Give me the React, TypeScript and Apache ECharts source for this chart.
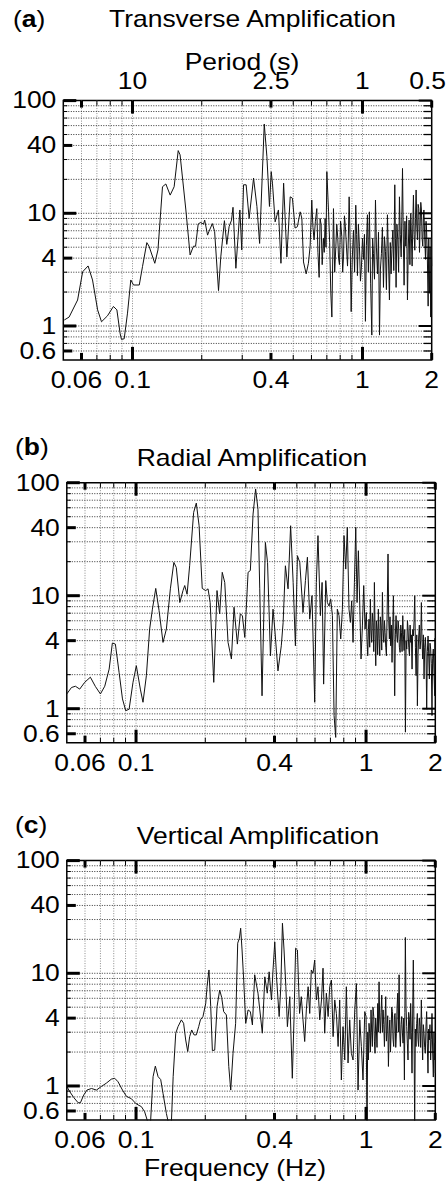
import { useEffect, useRef } from "react";
import * as echarts from "echarts";

const X_MIN = 0.05;
const X_MAX = 2;
const Y_MIN = 0.5;
const Y_MAX = 100;

const X_GRID_VALUES = [0.06, 0.07, 0.08, 0.09, 0.1, 0.2, 0.3, 0.4, 0.5, 0.6, 0.7, 0.8, 0.9, 1];
const X_TICK_VALUES = [...X_GRID_VALUES, 2];
const X_LABEL_VALUES = [0.06, 0.1, 0.4, 1, 2];
const Y_GRID_VALUES = [0.6, 0.7, 0.8, 0.9, 1, 2, 3, 4, 5, 6, 7, 8, 9, 10, 20, 30, 40, 50, 60, 70, 80, 90];
const Y_TICK_VALUES = [...Y_GRID_VALUES, 100];
const Y_LABEL_VALUES = [0.6, 1, 4, 10, 40, 100];
const PERIOD_LABELS = [10, 2.5, 1, 0.5];

const PANEL_TAGS = ["a", "b", "c"];
const PANEL_TITLES = ["Transverse Amplification", "Radial Amplification", "Vertical Amplification"];

const transverse: [number, number][] = [
  [0.0505, 1.13], [0.053, 1.2], [0.0577, 1.7], [0.0607, 3.03], [0.0641, 3.41], [0.067, 2.56], [0.0705, 1.39],
  [0.0733, 1.09], [0.0778, 1.23], [0.0826, 1.49], [0.0855, 1.39], [0.0883, 0.86], [0.0895, 0.76], [0.092, 0.77],
  [0.0951, 1.3], [0.0983, 2.56], [0.101, 2.31], [0.107, 2.31], [0.1105, 3.36], [0.1154, 5.49], [0.118, 5.1],
  [0.125, 3.6], [0.129, 4.73], [0.135, 17.2], [0.1396, 18.2], [0.1458, 14.5], [0.1517, 17.2], [0.158, 36],
  [0.161, 33], [0.1706, 10.7], [0.178, 4.27], [0.184, 5.1], [0.188, 5.1], [0.193, 8.04], [0.198, 8.3],
  [0.2035, 8], [0.206, 8.7], [0.212, 6.4], [0.215, 6.9], [0.2225, 8.1], [0.2275, 6.9], [0.2366, 2.06],
  [0.242, 4.1], [0.251, 8.6], [0.257, 5.3], [0.263, 7.6], [0.2695, 8.7], [0.2735, 11.3], [0.2815, 3.25],
  [0.293, 10.7], [0.2985, 4.73], [0.304, 17.9], [0.312, 17.9], [0.3215, 9], [0.336, 20.5], [0.3475, 11.5],
  [0.357, 5.4], [0.374, 62], [0.384, 31.8], [0.394, 11.5], [0.401, 23.4], [0.406, 18.5], [0.417, 8.4],
  [0.431, 10.7], [0.442, 3.6], [0.454, 18.5], [0.469, 4.1], [0.485, 14], [0.496, 13.6], [0.509, 7.4],
  [0.521, 7.6], [0.536, 10.3], [0.545, 9], [0.554, 3.7], [0.569, 2.9], [0.582, 3.6], [0.592, 5.1],
  [0.602, 13.1], [0.609, 7.5], [0.616, 5.8], [0.624, 8.5], [0.633, 11], [0.64, 4.5], [0.648, 2.7],
  [0.654, 9.0], [0.661, 7.9], [0.668, 3.5], [0.676, 6], [0.682, 4.5], [0.688, 9], [0.694, 5.0], [0.7, 23.4],
  [0.712, 10.3], [0.72, 5.5], [0.728, 2.0], [0.736, 1.2], [0.748, 11], [0.757, 3.0], [0.766, 5.1], [0.773, 8.0],
  [0.781, 6], [0.787, 4.0], [0.794, 3.5], [0.803, 8.5], [0.813, 6.2], [0.82, 3.0], [0.827, 4.1], [0.835, 9.5],
  [0.843, 7.6], [0.852, 5.0], [0.861, 3.4], [0.868, 6.0], [0.875, 14], [0.884, 5.5], [0.893, 1.34],
  [0.903, 4.0], [0.914, 7.1], [0.924, 3.0], [0.935, 11.8], [0.943, 6.5], [0.951, 2.8], [0.96, 8.0],
  [0.97, 5.1], [0.98, 2.5], [0.99, 3.4], [1.0, 6.0], [1.01, 3.9], [1.02, 6.5], [1.03, 1.1], [1.04, 5.2],
  [1.051, 9.7], [1.061, 3.0], [1.072, 10.3], [1.085, 2.4], [1.098, 0.83], [1.107, 6.0], [1.116, 4.4],
  [1.128, 2.6], [1.139, 13.1], [1.15, 5.0], [1.162, 2.9], [1.174, 6.8], [1.186, 0.83], [1.197, 3.2],
  [1.209, 4.4], [1.221, 7.5], [1.234, 2.2], [1.246, 6.2], [1.259, 4.6], [1.271, 2.1], [1.284, 9.7],
  [1.297, 4.0], [1.31, 1.7], [1.321, 5.5], [1.332, 2.9], [1.343, 4.8], [1.355, 7.1], [1.368, 3.1],
  [1.382, 17.9], [1.391, 6.0], [1.4, 2.2], [1.412, 8.0], [1.424, 5.8], [1.436, 3.0], [1.448, 14], [1.46, 6.5],
  [1.473, 4.1], [1.483, 9.0], [1.493, 25], [1.505, 6.0], [1.517, 2.3], [1.53, 8.5], [1.543, 5.1], [1.556, 9.5],
  [1.569, 1.7], [1.582, 5.0], [1.595, 8.7], [1.608, 3.5], [1.622, 10], [1.633, 6.0], [1.644, 3.4],
  [1.655, 8.0], [1.666, 14.5], [1.677, 6.5], [1.689, 4.7], [1.7, 9.0], [1.711, 16.1], [1.722, 8.0],
  [1.734, 5.8], [1.746, 12.0], [1.758, 11], [1.77, 4.5], [1.781, 7.6], [1.793, 12.5], [1.805, 10.7],
  [1.817, 6.0], [1.829, 5.1], [1.84, 9.0], [1.85, 10.7], [1.865, 6.0], [1.88, 3.9], [1.89, 8.5], [1.9, 7.1],
  [1.915, 4.0], [1.93, 1.5], [1.942, 6.0], [1.955, 1.95], [1.968, 5.0], [1.98, 1.2], [1.99, 6.0], [2.0, 3.4],
];

const radial: [number, number][] = [
  [0.05, 1.35], [0.0524, 1.54], [0.0545, 1.58], [0.0569, 1.49], [0.0598, 1.71], [0.0633, 1.9], [0.0666, 1.57],
  [0.07, 1.35], [0.0731, 1.58], [0.0764, 2.24], [0.0789, 3.81], [0.0813, 3.73], [0.0844, 2.09], [0.0873, 1.22],
  [0.0902, 0.96], [0.0933, 0.99], [0.097, 1.71], [0.1003, 2.4], [0.1044, 1.49], [0.1072, 1.14], [0.1109, 1.96],
  [0.1146, 5.07], [0.1178, 7.6], [0.1218, 11.6], [0.1259, 7.4], [0.131, 3.86], [0.1355, 5.07], [0.141, 11.5],
  [0.146, 19.7], [0.1496, 17.8], [0.155, 8.7], [0.16, 11.1], [0.1628, 12.3], [0.1667, 10.3], [0.171, 18.4],
  [0.178, 54.6], [0.1828, 66], [0.188, 41.6], [0.194, 11.6], [0.2009, 11.1], [0.2056, 11.5], [0.21, 8.7],
  [0.2177, 1.71], [0.2249, 11.1], [0.231, 6.9], [0.237, 16.1], [0.243, 13.1], [0.2512, 3.86], [0.2598, 2.75],
  [0.2667, 7.9], [0.2758, 3.73], [0.284, 6.9], [0.29, 6.66], [0.297, 4.27], [0.307, 16.1], [0.314, 16.7],
  [0.3227, 52.8], [0.331, 88], [0.339, 58], [0.345, 11.5], [0.353, 1.3], [0.365, 29.6], [0.373, 19.7],
  [0.384, 2.94], [0.394, 7.6], [0.401, 5.07], [0.414, 2.16], [0.428, 3.6], [0.436, 5.8], [0.446, 18.4],
  [0.458, 11.5], [0.47, 41.6], [0.482, 13.1], [0.493, 3.6], [0.503, 22.6], [0.515, 19.7], [0.532, 7.1],
  [0.545, 13.6], [0.556, 21.9], [0.569, 6.2], [0.582, 10], [0.598, 1.14], [0.608, 13.1], [0.618, 34],
  [0.633, 6.66], [0.644, 13.1], [0.654, 1.65], [0.668, 13.6], [0.679, 8.7], [0.69, 8.1], [0.702, 9.3],
  [0.714, 6.66], [0.726, 0.87], [0.738, 0.557], [0.75, 7.6], [0.763, 6.66], [0.776, 4.14], [0.789, 7.6],
  [0.802, 34], [0.816, 17.2], [0.829, 40.3], [0.843, 7.6], [0.855, 5.8], [0.866, 9], [0.878, 3.86],
  [0.89, 13.1], [0.902, 40.3], [0.914, 8.7], [0.926, 25], [0.938, 9], [0.951, 2.75], [0.964, 5.4],
  [0.977, 12.3], [0.99, 5.07], [1.003, 7.1], [1.01, 4.0], [1.017, 2.94], [1.024, 5.0], [1.03, 6.2],
  [1.037, 3.5], [1.044, 9.3], [1.051, 5.0], [1.058, 3.86], [1.065, 7.0], [1.072, 5.8], [1.08, 3.2],
  [1.087, 13.1], [1.095, 4.5], [1.102, 2.4], [1.109, 6.0], [1.116, 5.07], [1.123, 3.0], [1.131, 7.6],
  [1.139, 4.2], [1.147, 2.94], [1.154, 6.5], [1.162, 5.4], [1.17, 3.3], [1.178, 10.7], [1.186, 5.0],
  [1.194, 3.86], [1.202, 6.0], [1.21, 4.7], [1.218, 3.5], [1.226, 2.94], [1.236, 8.0], [1.246, 23.4],
  [1.255, 6.0], [1.263, 4.14], [1.271, 6.5], [1.28, 3.6], [1.289, 5.5], [1.297, 2.57], [1.306, 5.0],
  [1.315, 10], [1.323, 4.0], [1.332, 1.3], [1.341, 4.5], [1.35, 6.66], [1.36, 4.5], [1.369, 3.86],
  [1.378, 6.0], [1.387, 5.07], [1.396, 3.5], [1.406, 3.15], [1.415, 5.5], [1.425, 4.7], [1.434, 3.2],
  [1.444, 6.66], [1.453, 4.5], [1.463, 3.27], [1.473, 5.0], [1.483, 0.62], [1.493, 4.0], [1.503, 3.37],
  [1.513, 6.0], [1.523, 5.07], [1.533, 3.5], [1.544, 2.94], [1.554, 5.5], [1.564, 3.86], [1.574, 4.5],
  [1.585, 2.24], [1.595, 5.0], [1.606, 4.4], [1.617, 6.0], [1.628, 10], [1.639, 3.5], [1.65, 1.96],
  [1.661, 4.5], [1.672, 1.06], [1.683, 3.0], [1.694, 4.4], [1.705, 5.5], [1.717, 3.37], [1.728, 4.0],
  [1.74, 8.7], [1.751, 4.0], [1.763, 2.75], [1.775, 4.5], [1.787, 1.83], [1.799, 3.5], [1.811, 4.27],
  [1.823, 3.0], [1.835, 0.99], [1.847, 3.2], [1.86, 4.4], [1.872, 3.0], [1.885, 1.83], [1.897, 3.8],
  [1.91, 3.37], [1.922, 2.5], [1.935, 0.87], [1.947, 2.8], [1.96, 3.37], [1.973, 2.2], [1.987, 1.3],
  [1.994, 4.2], [2.0, 2.94],
];

const vertical: [number, number][] = [
  [0.05, 0.99], [0.0515, 0.89], [0.0536, 0.79], [0.056, 0.71], [0.0573, 0.71], [0.0592, 0.83], [0.0612, 0.92],
  [0.064, 0.95], [0.0673, 0.92], [0.0707, 0.99], [0.0743, 1.06], [0.0781, 1.15], [0.0808, 1.17], [0.0835, 1.09],
  [0.0873, 0.92], [0.0908, 0.81], [0.0955, 0.77], [0.0997, 0.7], [0.102, 0.68], [0.1055, 0.656], [0.109, 0.59],
  [0.1128, 0.47], [0.1155, 0.46], [0.1186, 1.21], [0.1213, 1.5], [0.1247, 1.21], [0.128, 1.14], [0.131, 0.86],
  [0.1355, 0.57], [0.139, 0.45], [0.142, 0.4], [0.145, 1.21], [0.1488, 2.94], [0.1522, 3.36], [0.1574, 3.86],
  [0.161, 3.6], [0.1644, 2.56], [0.1678, 2.02], [0.171, 2.74], [0.1746, 3.14], [0.1787, 2.84], [0.1828, 2.84],
  [0.1872, 3.36], [0.1905, 3.86], [0.1954, 4.13], [0.2009, 5.4], [0.2036, 7.6], [0.2075, 10.7], [0.2112, 5.06],
  [0.2147, 2.06], [0.2198, 2.08], [0.225, 5.06], [0.231, 7.1], [0.2357, 6.1], [0.2404, 4.57], [0.247, 4.27],
  [0.253, 1.49], [0.258, 0.92], [0.264, 1.95], [0.271, 3.6], [0.2767, 18.5], [0.2814, 20.5], [0.285, 25.1],
  [0.289, 16.1], [0.2938, 8.7], [0.2998, 3.6], [0.307, 4.73], [0.314, 4.57], [0.3206, 3.48], [0.328, 9.7],
  [0.339, 6.66], [0.354, 2.94], [0.363, 9.3], [0.372, 6.66], [0.379, 10.3], [0.388, 5.8], [0.394, 10.7],
  [0.401, 19], [0.408, 9.3], [0.419, 4.13], [0.426, 7.6], [0.433, 27.8], [0.44, 16.1], [0.448, 7.6],
  [0.455, 3.36], [0.466, 6.2], [0.478, 1.17], [0.486, 3.86], [0.494, 16.7], [0.503, 16.1], [0.514, 4.4],
  [0.523, 6.2], [0.532, 3.86], [0.541, 2.48], [0.55, 4.73], [0.56, 7.6], [0.569, 4.4], [0.578, 10.7],
  [0.588, 10], [0.598, 13.1], [0.608, 5.8], [0.618, 7.6], [0.629, 3.86], [0.64, 5.8], [0.65, 11.1],
  [0.661, 2.94], [0.672, 6.66], [0.684, 4.13], [0.695, 7.6], [0.707, 8.7], [0.719, 2.74], [0.731, 5.8],
  [0.743, 4.4], [0.756, 2.24], [0.768, 5.8], [0.781, 1.13], [0.794, 3.36], [0.808, 1.7], [0.821, 7.6],
  [0.835, 1.6], [0.849, 3.86], [0.863, 1.95], [0.878, 1.7], [0.893, 4.73], [0.908, 8.1], [0.923, 0.92],
  [0.939, 3.86], [0.954, 2.24], [0.97, 1.13], [0.987, 4.57], [1.0, 4.13], [1.01, 0.43], [1.017, 3.0],
  [1.024, 1.7], [1.03, 3.6], [1.037, 2.94], [1.044, 2.0], [1.051, 4.73], [1.058, 3.0], [1.065, 2.24],
  [1.072, 5.0], [1.08, 4.13], [1.087, 2.5], [1.094, 1.95], [1.101, 4.0], [1.109, 3.14], [1.116, 2.2],
  [1.124, 5.4], [1.131, 3.0], [1.139, 8.4], [1.146, 4.0], [1.154, 2.94], [1.162, 4.5], [1.17, 6.4],
  [1.178, 3.0], [1.186, 4.73], [1.194, 3.5], [1.202, 2.24], [1.21, 4.0], [1.218, 6.2], [1.226, 2.5],
  [1.234, 3.14], [1.242, 4.2], [1.251, 1.49], [1.26, 3.0], [1.268, 3.86], [1.277, 2.0], [1.285, 2.94],
  [1.293, 5.0], [1.302, 4.57], [1.31, 2.6], [1.319, 2.24], [1.328, 4.2], [1.337, 4.4], [1.346, 2.2],
  [1.355, 2.94], [1.364, 5.0], [1.373, 6.66], [1.382, 3.0], [1.392, 9.7], [1.401, 3.0], [1.41, 2.24],
  [1.42, 3.5], [1.429, 4.13], [1.438, 3.0], [1.448, 2.4], [1.458, 4.0], [1.468, 1.13], [1.475, 4.5],
  [1.482, 20.8], [1.492, 5.0], [1.502, 3.36], [1.512, 2.4], [1.522, 1.7], [1.532, 4.5], [1.543, 3.86],
  [1.553, 2.6], [1.563, 5.4], [1.573, 3.0], [1.584, 1.3], [1.594, 4.0], [1.605, 13.1], [1.616, 3.0],
  [1.627, 0.45], [1.638, 3.2], [1.649, 2.24], [1.66, 3.6], [1.671, 4.4], [1.682, 2.6], [1.693, 2.24],
  [1.704, 4.0], [1.716, 3.36], [1.727, 2.2], [1.739, 5.8], [1.75, 3.0], [1.762, 1.7], [1.774, 3.5],
  [1.786, 2.94], [1.798, 2.2], [1.81, 1.95], [1.822, 3.4], [1.834, 4.57], [1.846, 2.4], [1.859, 1.3],
  [1.871, 3.2], [1.884, 2.56], [1.896, 3.5], [1.909, 1.7], [1.922, 2.6], [1.935, 4.4], [1.948, 2.0],
  [1.961, 1.2], [1.974, 3.0], [1.987, 1.7], [1.994, 2.4], [2.0, 1.3],
];

const PANEL_DATA = [transverse, radial, vertical];

const FONT = "'Liberation Sans', Arial, Helvetica, sans-serif";
const FS = 23;
const SX = 1.15;

const GRIDS = [
  { left: 63.3, top: 100.6, width: 368.4, height: 259.3 },
  { left: 66.8, top: 482.7, width: 368.5, height: 260 },
  { left: 66.8, top: 860.6, width: 368.5, height: 259.3 },
];

const isDecade = (v: number) => Math.abs(Math.log10(v) - Math.round(Math.log10(v))) < 1e-6;

function textEl(x: number, y: number, text: string, align: string) {
  return {
    type: "text",
    x,
    y,
    scaleX: SX,
    style: { text, x: 0, y: 0, fontSize: FS, fontFamily: FONT, fill: "#000", align, verticalAlign: "middle" },
  };
}

export default function App() {
  const ref = useRef<HTMLDivElement>(null);

  useEffect(() => {
    if (!ref.current) return;
    const chart = echarts.init(ref.current, null, { renderer: "svg" });

    const series: any[] = [];
    GRIDS.forEach((_, gi) => {
      series.push({
        type: "custom",
        xAxisIndex: gi,
        yAxisIndex: gi,
        clip: false,
        silent: true,
        z: 1,
        data: X_GRID_VALUES.map((v) => [v, 1]),
        renderItem: (params: any, api: any) => {
          const cs = params.coordSys;
          const x = api.coord([api.value(0), 1])[0];
          return {
            type: "line",
            shape: { x1: x, y1: cs.y, x2: x, y2: cs.y + cs.height },
            style: { stroke: "#8a8a8a", lineWidth: 1, lineDash: [1, 1.5] },
          };
        },
      });
      series.push({
        type: "custom",
        xAxisIndex: gi,
        yAxisIndex: gi,
        clip: false,
        silent: true,
        z: 1,
        data: Y_GRID_VALUES.map((v) => [1, v]),
        renderItem: (params: any, api: any) => {
          const cs = params.coordSys;
          const y = api.coord([1, api.value(1)])[1];
          return {
            type: "line",
            shape: { x1: cs.x, y1: y, x2: cs.x + cs.width, y2: y },
            style: { stroke: "#333", lineWidth: 1, lineDash: [1, 1.5] },
          };
        },
      });
      series.push({
        type: "line",
        xAxisIndex: gi,
        yAxisIndex: gi,
        data: PANEL_DATA[gi],
        showSymbol: false,
        symbol: "none",
        clip: true,
        z: 2,
        lineStyle: { color: "#111", width: 1 },
      });
      series.push({
        type: "custom",
        xAxisIndex: gi,
        yAxisIndex: gi,
        clip: false,
        silent: true,
        z: 3,
        data: X_TICK_VALUES.map((v) => [v, 1]),
        renderItem: (params: any, api: any) => {
          const cs = params.coordSys;
          const v = api.value(0);
          const x = api.coord([v, 1])[0];
          const dec = isDecade(v);
          const lab = X_LABEL_VALUES.some((l) => Math.abs(l - v) < 1e-9);
          const len = dec ? 13 : lab ? 7 : 5;
          const w = dec || lab ? 3 : 1;
          const b = cs.y + cs.height;
          return {
            type: "group",
            children: [
              { type: "line", shape: { x1: x, y1: b, x2: x, y2: b - len }, style: { stroke: "#000", lineWidth: w } },
              { type: "line", shape: { x1: x, y1: cs.y, x2: x, y2: cs.y + len }, style: { stroke: "#000", lineWidth: w } },
            ],
          };
        },
      });
      series.push({
        type: "custom",
        xAxisIndex: gi,
        yAxisIndex: gi,
        clip: false,
        silent: true,
        z: 3,
        data: Y_TICK_VALUES.map((v) => [1, v]),
        renderItem: (params: any, api: any) => {
          const cs = params.coordSys;
          const v = api.value(1);
          const y = api.coord([1, v])[1];
          const dec = isDecade(v);
          const lab = Y_LABEL_VALUES.some((l) => Math.abs(l - v) < 1e-9);
          const len = dec ? 13 : lab ? 9 : 4;
          const w = dec || lab ? 3 : 1;
          const rlen = dec ? 13 : 8;
          const r = cs.x + cs.width;
          return {
            type: "group",
            children: [
              { type: "line", shape: { x1: cs.x, y1: y, x2: cs.x + len, y2: y }, style: { stroke: "#000", lineWidth: w } },
              { type: "line", shape: { x1: r, y1: y, x2: r - rlen, y2: y }, style: { stroke: "#000", lineWidth: dec ? 2 : 1.3 } },
            ],
          };
        },
      });
      series.push({
        type: "custom",
        xAxisIndex: gi,
        yAxisIndex: gi,
        clip: false,
        silent: true,
        z: 4,
        data: X_LABEL_VALUES.map((v) => [v, 1]),
        renderItem: (params: any, api: any) => {
          const cs = params.coordSys;
          const v = api.value(0);
          const x = api.coord([v, 1])[0] + (params.dataIndex === 0 ? -5 : 0);
          return textEl(x, cs.y + cs.height + 20, String(v), "center");
        },
      });
      series.push({
        type: "custom",
        xAxisIndex: gi,
        yAxisIndex: gi,
        clip: false,
        silent: true,
        z: 4,
        data: Y_LABEL_VALUES.map((v) => [1, v]),
        renderItem: (params: any, api: any) => {
          const cs = params.coordSys;
          const v = api.value(1);
          const y = api.coord([1, v])[1];
          return textEl(cs.x - 7, y, String(v), "right");
        },
      });
    });
    series.push({
      type: "custom",
      xAxisIndex: 0,
      yAxisIndex: 0,
      clip: false,
      silent: true,
      z: 4,
      data: PERIOD_LABELS.map((p) => [1 / p, 1, p]),
      renderItem: (params: any, api: any) => {
        const cs = params.coordSys;
        const last = params.dataIndex === PERIOD_LABELS.length - 1;
        const x = api.coord([api.value(0), 1])[0] + (last ? -4 : 0);
        return textEl(x, cs.y - 19, String(api.value(2)), "center");
      },
    });

    const titleY = [19, 458, 836];
    const tagY = [19, 447, 825];
    const titleX = [252.5, 252, 258];
    const graphic: any[] = [];
    PANEL_TITLES.forEach((t, i) => {
      graphic.push({
        type: "text",
        x: titleX[i],
        y: titleY[i],
        scaleX: SX,
        style: { text: t, fontSize: FS, fontFamily: FONT, fill: "#000", align: "center", verticalAlign: "middle" },
      });
      graphic.push({
        type: "text",
        x: i === 0 ? 13 : 15,
        y: tagY[i],
        scaleX: SX,
        style: {
          text: "({b|" + PANEL_TAGS[i] + "})",
          fontSize: FS,
          fontFamily: FONT,
          fill: "#000",
          align: "left",
          verticalAlign: "middle",
          rich: { b: { fontWeight: "bold", fontSize: FS, fontFamily: FONT, fill: "#000" } },
        },
      });
    });
    graphic.push({
      type: "text",
      x: 242,
      y: 62,
      scaleX: SX,
      style: { text: "Period (s)", fontSize: FS, fontFamily: FONT, fill: "#000", align: "center", verticalAlign: "middle" },
    });
    graphic.push({
      type: "text",
      x: 235,
      y: 1168.5,
      scaleX: SX,
      style: { text: "Frequency (Hz)", fontSize: FS, fontFamily: FONT, fill: "#000", align: "center", verticalAlign: "middle" },
    });

    const hidden = {
      axisLine: { show: false },
      axisTick: { show: false },
      axisLabel: { show: false },
      splitLine: { show: false },
      minorTick: { show: false },
      minorSplitLine: { show: false },
    };

    chart.setOption({
      animation: false,
      backgroundColor: "#fff",
      grid: GRIDS.map((g) => ({
        ...g,
        show: true,
        borderColor: "#000",
        borderWidth: 1.5,
        backgroundColor: "transparent",
        containLabel: false,
        outerBoundsMode: "none",
      })),
      xAxis: GRIDS.map((_, i) => ({ type: "log", logBase: 10, min: X_MIN, max: X_MAX, gridIndex: i, ...hidden })),
      yAxis: GRIDS.map((_, i) => ({ type: "log", logBase: 10, min: Y_MIN, max: Y_MAX, gridIndex: i, ...hidden })),
      series,
      graphic,
    });

    return () => chart.dispose();
  }, []);

  return (
    <div
      ref={ref}
      style={{ position: "absolute", left: 0, top: 0, width: 448, height: 1186, background: "#fff" }}
    />
  );
}
